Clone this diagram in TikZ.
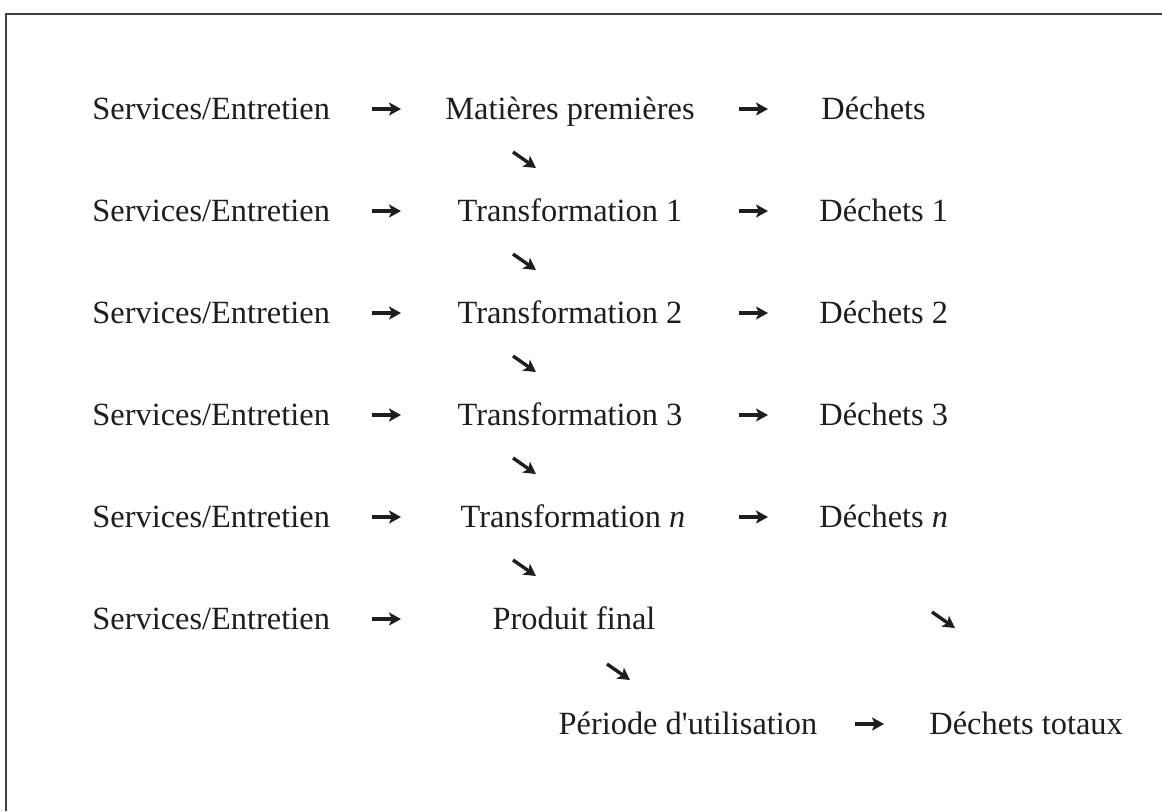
\documentclass[tikz,border=0pt]{standalone}
\usepackage{fontspec}
\setmainfont{Liberation Serif}
\usetikzlibrary{arrows.meta}
\definecolor{ink}{HTML}{1E1E1E}
\begin{document}
\begin{tikzpicture}[x=0.5pt,y=-0.5pt,
  lbl/.style={font=\fontsize{16.2}{19}\selectfont, inner sep=0pt, text=ink},
  lft/.style={lbl, anchor=base west},
  mid/.style={lbl, anchor=base},
  harr/.style={draw=ink, line width=1.7pt, -{Stealth[length=6pt,width=6.5pt,inset=1.5pt]}},
  darr/.style={draw=ink, line width=1.7pt, -{Stealth[length=6pt,width=6.5pt,inset=1.5pt]}},
  frame/.style={draw=ink!85, line width=1pt}]
\useasboundingbox (0,0) rectangle (1162,811);
% frame
\coordinate (fTL) at (6,14);
\coordinate (fTR) at (1162,14);
\coordinate (fBL) at (6,811);
\draw[frame] (fBL) -- (fTL) -- (fTR);
% left column
\foreach \i/\b in {1/119,2/221,3/323,4/425,5/527,6/629}{
  \node[lft] (s\i) at (92,\b) {Services/Entretien};
}
% middle column
\node[mid] (m1) at (570,119) {Matières premières};
\node[mid] (m2) at (570,221) {Transformation 1};
\node[mid] (m3) at (570,323) {Transformation 2};
\node[mid] (m4) at (570,425) {Transformation 3};
\node[mid] (m5) at (573,527) {Transformation \textit{n}};
\node[mid] (m6) at (574,629) {Produit final};
% right column
\node[lft] (d1) at (821,119) {Déchets};
\node[lft] (d2) at (819,221) {Déchets 1};
\node[lft] (d3) at (819,323) {Déchets 2};
\node[lft] (d4) at (819,425) {Déchets 3};
\node[lft] (d5) at (819,527) {Déchets \textit{n}};
% bottom row
\node[mid] (p) at (688,734) {Période d\textquotesingle utilisation};
\node[lft] (t) at (929,734) {Déchets totaux};
% horizontal arrows
\foreach \i/\b in {1/119,2/221,3/323,4/425,5/527,6/629}{
  \coordinate (la\i) at (372,\b-10);
  \coordinate (lb\i) at (401,\b-10);
  \draw[harr] (la\i) -- (lb\i);
}
\foreach \i/\b in {1/119,2/221,3/323,4/425,5/527}{
  \coordinate (ra\i) at (739,\b-10);
  \coordinate (rb\i) at (768,\b-10);
  \draw[harr] (ra\i) -- (rb\i);
}
\coordinate (ba) at (855,724);
\coordinate (bb) at (884,724);
\draw[harr] (ba) -- (bb);
% diagonal arrows
\foreach \i/\c in {1/160,2/262,3/364,4/466,5/568}{
  \coordinate (da\i) at (513,\c-8);
  \coordinate (db\i) at (536,\c+8);
  \draw[darr] (da\i) -- (db\i);
}
\coordinate (dpa) at (607,664);
\coordinate (dpb) at (630,680);
\draw[darr] (dpa) -- (dpb);
\coordinate (dra) at (932,612);
\coordinate (drb) at (955,628);
\draw[darr] (dra) -- (drb);
\end{tikzpicture}
\end{document}
